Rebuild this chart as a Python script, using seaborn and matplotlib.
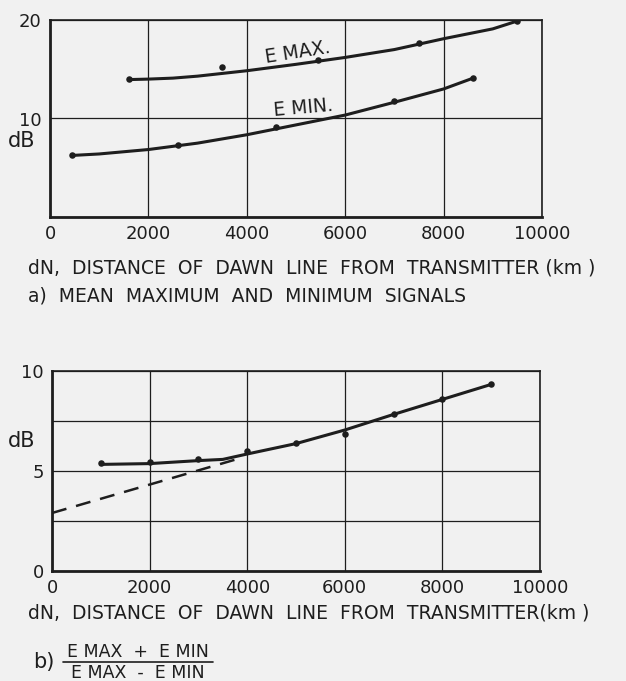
import matplotlib
matplotlib.use("Agg")
import matplotlib.pyplot as plt
import pandas as pd
import seaborn as sns
from matplotlib.lines import Line2D

# (a) mean maximum and minimum signals, dB versus dawn-line distance (km)
emax_km = [1600, 3500, 5450, 7500, 9500]
emax_db = [14.0, 15.2, 15.9, 17.7, 19.9]
emin_km = [450, 2600, 4600, 7000, 8600]
emin_db = [6.3, 7.3, 9.1, 11.8, 14.1]

# faired curves through the (a) observations
emax_curve_km = [1600, 2000, 2500, 3000, 4000, 5000, 6000, 7000, 8000, 9000, 9500]
emax_curve_db = [13.95, 14.0, 14.1, 14.3, 14.85, 15.5, 16.2, 17.0, 18.1, 19.1, 19.9]
emin_curve_km = [450, 1000, 2000, 3000, 4000, 5000, 6000, 7000, 8000, 8600]
emin_curve_db = [6.25, 6.4, 6.85, 7.5, 8.35, 9.35, 10.35, 11.65, 13.0, 14.1]

# (b) (EMAX + EMIN) / (EMAX - EMIN), dB
ratio_km = [1000, 2000, 3000, 4000, 5000, 6000, 7000, 8000, 9000]
ratio_db = [5.4, 5.45, 5.6, 6.0, 6.4, 6.85, 7.85, 8.6, 9.35]
ratio_curve_km = [1000, 2000, 3000, 3500, 4000, 5000, 6000, 7000, 8000, 9000]
ratio_curve_db = [5.33, 5.37, 5.52, 5.58, 5.85, 6.37, 7.05, 7.83, 8.58, 9.33]
# linear extrapolation toward zero distance
extrap_km = [0, 3800]
extrap_db = [2.9, 5.6]

x_ticks = [0, 2000, 4000, 6000, 8000, 10000]

BG = "#f1f1f1"
INK = "#1e1e1e"

sns.set_theme(style="white")
plt.rcParams["font.family"] = ["DejaVu Sans"]
plt.rcParams["figure.facecolor"] = BG
plt.rcParams["axes.facecolor"] = BG

fig = plt.figure(figsize=(6.26, 6.81), dpi=100)
ax_a = fig.add_axes([50 / 626, 1 - 217 / 681, 492 / 626, 197 / 681])
ax_b = fig.add_axes([52 / 626, 1 - 571 / 681, 488 / 626, 200 / 681])


def style_axes(ax, yticks, ylabels):
    ax.set_xlim(0, 10000)
    ax.set_xticks(x_ticks)
    ax.set_xticklabels([str(v) for v in x_ticks])
    ax.set_yticks(yticks)
    ax.set_yticklabels(ylabels)
    ax.tick_params(length=0, labelsize=13, colors=INK, pad=6)
    ax.grid(True, color=INK, linewidth=0.9)
    for s in ax.spines.values():
        s.set_color(INK)
        s.set_linewidth(1.2)
    ax.spines["left"].set_linewidth(2.0)
    ax.spines["bottom"].set_linewidth(2.0)
    ax.set_xlabel("")
    ax.set_ylabel("")


# ---- panel (a)
curves_a = pd.concat([
    pd.DataFrame({"km": emax_curve_km, "db": emax_curve_db, "s": "max"}),
    pd.DataFrame({"km": emin_curve_km, "db": emin_curve_db, "s": "min"}),
])
pts_a = pd.concat([
    pd.DataFrame({"km": emax_km, "db": emax_db, "s": "max"}),
    pd.DataFrame({"km": emin_km, "db": emin_db, "s": "min"}),
])
sns.lineplot(data=curves_a, x="km", y="db", units="s", estimator=None,
             color=INK, linewidth=2.2, sort=False, ax=ax_a, legend=False)
sns.scatterplot(data=pts_a, x="km", y="db", color=INK, s=22,
                edgecolor=INK, linewidth=0, ax=ax_a, legend=False, zorder=5)
ax_a.set_ylim(0, 20)
style_axes(ax_a, [0, 10, 20], ["", "10", "20"])
ax_a.text(4350, 16.7, "E MAX.", fontsize=13.5, color=INK, rotation=9,
          ha="left", va="center")
ax_a.text(4530, 11.1, "E MIN.", fontsize=13.5, color=INK, rotation=5,
          ha="left", va="center")
fig.text(22 / 626, 1 - 141 / 681, "dB", fontsize=15, color=INK,
         ha="center", va="center")
fig.text(28 / 626, 1 - 268 / 681,
         "dN,  DISTANCE  OF  DAWN  LINE  FROM  TRANSMITTER (km )",
         fontsize=13.5, color=INK, ha="left", va="center")
fig.text(28 / 626, 1 - 296 / 681, "a)  MEAN  MAXIMUM  AND  MINIMUM  SIGNALS",
         fontsize=13.5, color=INK, ha="left", va="center")

# ---- panel (b)
sns.lineplot(x=ratio_curve_km, y=ratio_curve_db, color=INK, linewidth=2.2,
             ax=ax_b, legend=False)
sns.lineplot(x=extrap_km, y=extrap_db, color=INK, linewidth=1.8,
             linestyle=(0, (6, 4)), ax=ax_b, legend=False)
sns.scatterplot(x=ratio_km, y=ratio_db, color=INK, s=22, linewidth=0,
                ax=ax_b, legend=False, zorder=5)
ax_b.set_ylim(0, 10)
style_axes(ax_b, [0, 2.5, 5, 7.5, 10], ["0", "", "5", "", "10"])
fig.text(22 / 626, 1 - 441 / 681, "dB", fontsize=15, color=INK,
         ha="center", va="center")
fig.text(28 / 626, 1 - 613 / 681,
         "dN,  DISTANCE  OF  DAWN  LINE  FROM  TRANSMITTER(km )",
         fontsize=13.5, color=INK, ha="left", va="center")
fig.text(33 / 626, 1 - 662 / 681, "b)", fontsize=15, color=INK,
         ha="left", va="center")
fig.text(138 / 626, 1 - 652 / 681, "E MAX  +  E MIN", fontsize=12.5, color=INK,
         ha="center", va="center")
fig.text(138 / 626, 1 - 673 / 681, "E MAX  -  E MIN", fontsize=12.5, color=INK,
         ha="center", va="center")
fig.add_artist(Line2D([63 / 626, 213 / 626], [1 - 662 / 681, 1 - 662 / 681],
                      color=INK, linewidth=1.2, transform=fig.transFigure))

fig.savefig("out.png", dpi=100, facecolor=BG)
